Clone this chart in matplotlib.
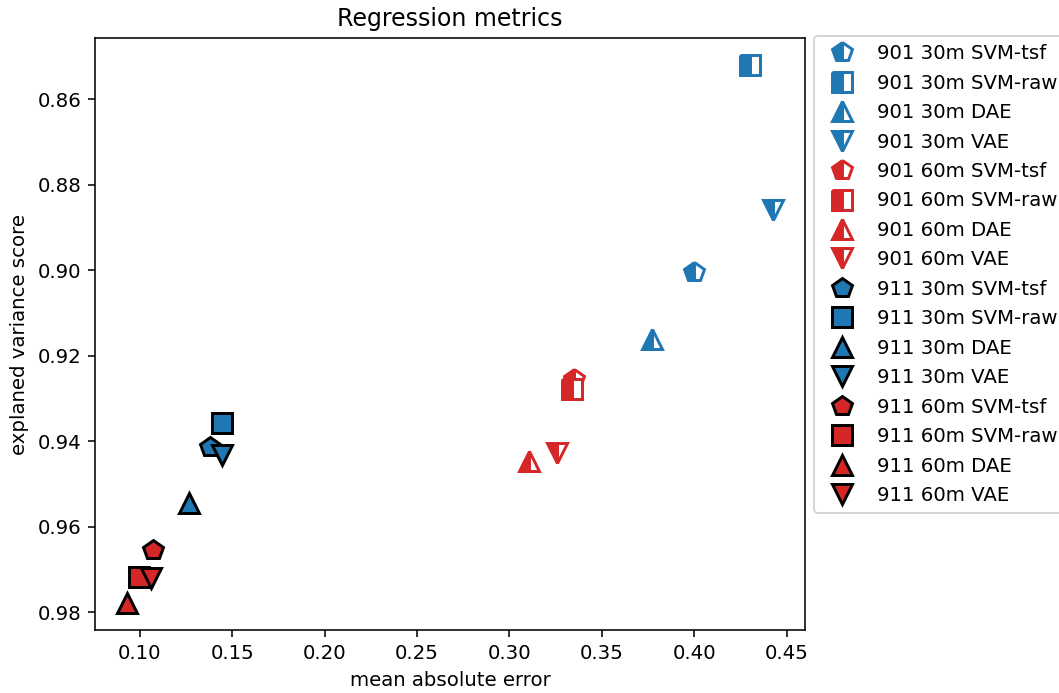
import matplotlib
matplotlib.use("Agg")
import matplotlib.pyplot as plt

# one entry per (station, horizon, model) run
labels = [
    "901 30m SVM-tsf", "901 30m SVM-raw", "901 30m DAE", "901 30m VAE",
    "901 60m SVM-tsf", "901 60m SVM-raw", "901 60m DAE", "901 60m VAE",
    "911 30m SVM-tsf", "911 30m SVM-raw", "911 30m DAE", "911 30m VAE",
    "911 60m SVM-tsf", "911 60m SVM-raw", "911 60m DAE", "911 60m VAE",
]
mae = [
    0.400, 0.430, 0.377, 0.4424,
    0.335, 0.334, 0.3105, 0.3255,
    0.1378, 0.1446, 0.1265, 0.1443,
    0.1073, 0.0995, 0.0932, 0.1062,
]
evs = [
    0.9005, 0.8520, 0.9162, 0.8860,
    0.9255, 0.9278, 0.9446, 0.9428,
    0.9413, 0.9358, 0.9546, 0.9432,
    0.9655, 0.9718, 0.9779, 0.9720,
]

markers = ["p", "s", "^", "v"]
horizon_colors = {"30m": "tab:blue", "60m": "tab:red"}

DPI = 142
fig, ax = plt.subplots(figsize=(1059 / DPI, 693 / DPI), dpi=DPI)
fig.subplots_adjust(left=0.0897, right=0.760, top=0.945, bottom=0.091)

for i, (label, x, y) in enumerate(zip(labels, mae, evs)):
    station, horizon, _ = label.split()
    color = horizon_colors[horizon]
    marker = markers[i % 4]
    if station == "901":
        # 901 runs: half-open markers
        ax.plot([x], [y], linestyle="none", marker=marker, markersize=10.5,
                fillstyle="left", markerfacecolor=color,
                markerfacecoloralt="white", markeredgecolor=color,
                markeredgewidth=1.5, label=label)
    else:
        ax.plot([x], [y], linestyle="none", marker=marker, markersize=10.5,
                markerfacecolor=color, markeredgecolor="black",
                markeredgewidth=1.5, label=label)

ax.invert_yaxis()
ax.set_title("Regression metrics")
ax.set_xlabel("mean absolute error")
ax.set_ylabel("explaned variance score")
ax.legend(loc="upper left", bbox_to_anchor=(1.013, 1.003), borderaxespad=0,
          labelspacing=0.53)

fig.savefig("out.png", dpi=DPI)
